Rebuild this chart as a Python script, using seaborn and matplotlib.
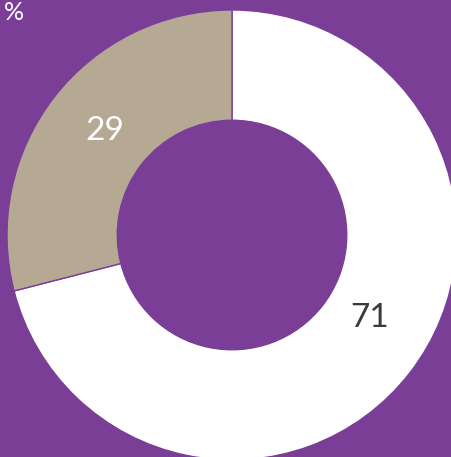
import matplotlib
matplotlib.use("Agg")
import matplotlib.pyplot as plt
import seaborn as sns

categories = ["A", "B"]
values = [71, 29]
labels = ["71", "29"]

sns.set_theme(style="white")
plt.rcParams['font.family'] = ['Lato', 'DejaVu Sans']

bg = "#7A3E97"
colors = ["#FFFFFF", "#B6A994"]
text_colors = ["#3A3A3A", "#FFFFFF"]

fig = plt.figure(figsize=(4.52, 4.57), dpi=100, facecolor=bg)
ax = fig.add_axes([0, 0, 1, 1])
ax.set_facecolor(bg)

wedges, texts = ax.pie(values, colors=colors, startangle=90, counterclock=False,
                       radius=1.0, labels=labels, labeldistance=0.72,
                       wedgeprops=dict(width=0.49, edgecolor=bg, linewidth=1.0),
                       textprops=dict(fontsize=24))
for t, c in zip(texts, text_colors):
    t.set_color(c)
    t.set_ha("center")
    t.set_va("center")
texts[0].set_position((0.61, -0.37))
texts[1].set_position((-0.565, 0.462))

ax.set_xlim(-232 / 225, 220 / 225)
ax.set_ylim(-222 / 225, 235 / 225)
ax.set_aspect("auto")
ax.axis("off")

fig.text(0.008, 0.998, "%", color="white", fontsize=18, ha="left", va="top")

fig.savefig("out.png", dpi=100, facecolor=bg)
